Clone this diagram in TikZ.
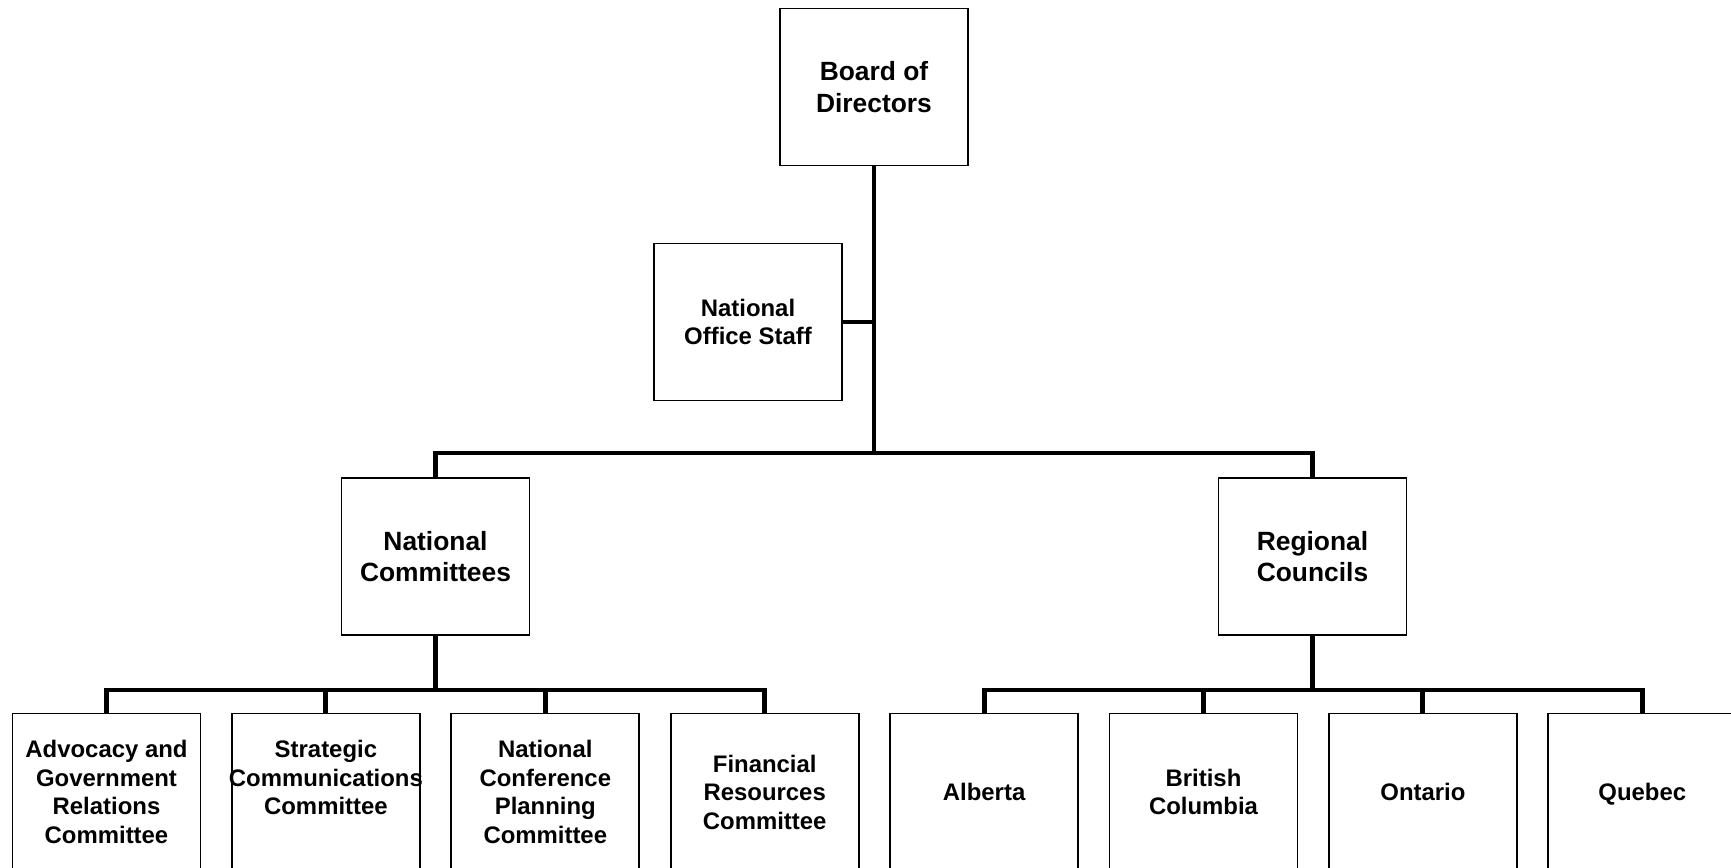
\documentclass[tikz,border=0pt]{standalone}
\usepackage{fontspec}
\setmainfont{Liberation Sans}
\usetikzlibrary{positioning}

\tikzset{
  unit/.style={draw, line width=0.5pt, minimum width=1.88cm, minimum height=1.57cm,
    inner sep=0pt, align=center, font=\bfseries\fontsize{7.5}{9}\selectfont},
  subunit/.style={unit, font=\bfseries\fontsize{6.8}{8.1}\selectfont},
  link/.style={line width=1.4pt}
}

\begin{document}
\begin{tikzpicture}[x=0.01cm, y=-0.01cm]
		\useasboundingbox (0,0) rectangle (1731,868);

		% Draw the top of the chart
		\node[unit] (board) at (874,87) {Board of\\Directors};
		\node[subunit] (staff) at (748,322) {National\\Office Staff};

		% Draw the two branches
		\node[unit] (natcom) at (435.5,556.5) {National\\Committees};
		\node[unit] (regcoun) at (1312.5,556.5) {Regional\\Councils};

		% Add the committees
		\node[subunit] (advocacy) at (106.5,792) {Advocacy and\\Government\\Relations\\Committee};
		\node[subunit] (strategic) at (325.9,792) {Strategic\\\makebox[1.8cm]{Communications}\\Committee\\\mbox{}};
		\node[subunit] (conference) at (545.3,792) {National\\Conference\\Planning\\Committee};
		\node[subunit] (financial) at (764.7,792) {Financial\\Resources\\Committee};

		% Add the regions
		\node[subunit] (alberta) at (984.1,792) {Alberta};
		\node[subunit] (bc) at (1203.5,792) {British\\Columbia};
		\node[subunit] (ontario) at (1422.9,792) {Ontario};
		\node[subunit] (quebec) at (1642.3,792) {\raisebox{0pt}[\height][0pt]{Quebec}};

		% Bus points of the connectors
		\coordinate (topbus) at (874,453);
		\coordinate (ncbus) at (435.5,690);
		\coordinate (rcbus) at (1312.5,690);

		% Draw the connectors
		\draw[link] (board) -- (topbus);
		\draw[link] (staff.east) -- (staff.east -| topbus);
		\draw[link] (natcom.north) |- (topbus) -| (regcoun.north);
		\draw[link] (natcom) -- (ncbus);
		\foreach \sub in {advocacy, strategic, conference, financial}
			\draw[link] (\sub.north) |- (ncbus);
		\draw[link] (regcoun) -- (rcbus);
		\foreach \sub in {alberta, bc, ontario, quebec}
			\draw[link] (\sub.north) |- (rcbus);

	\end{tikzpicture}
\end{document}
